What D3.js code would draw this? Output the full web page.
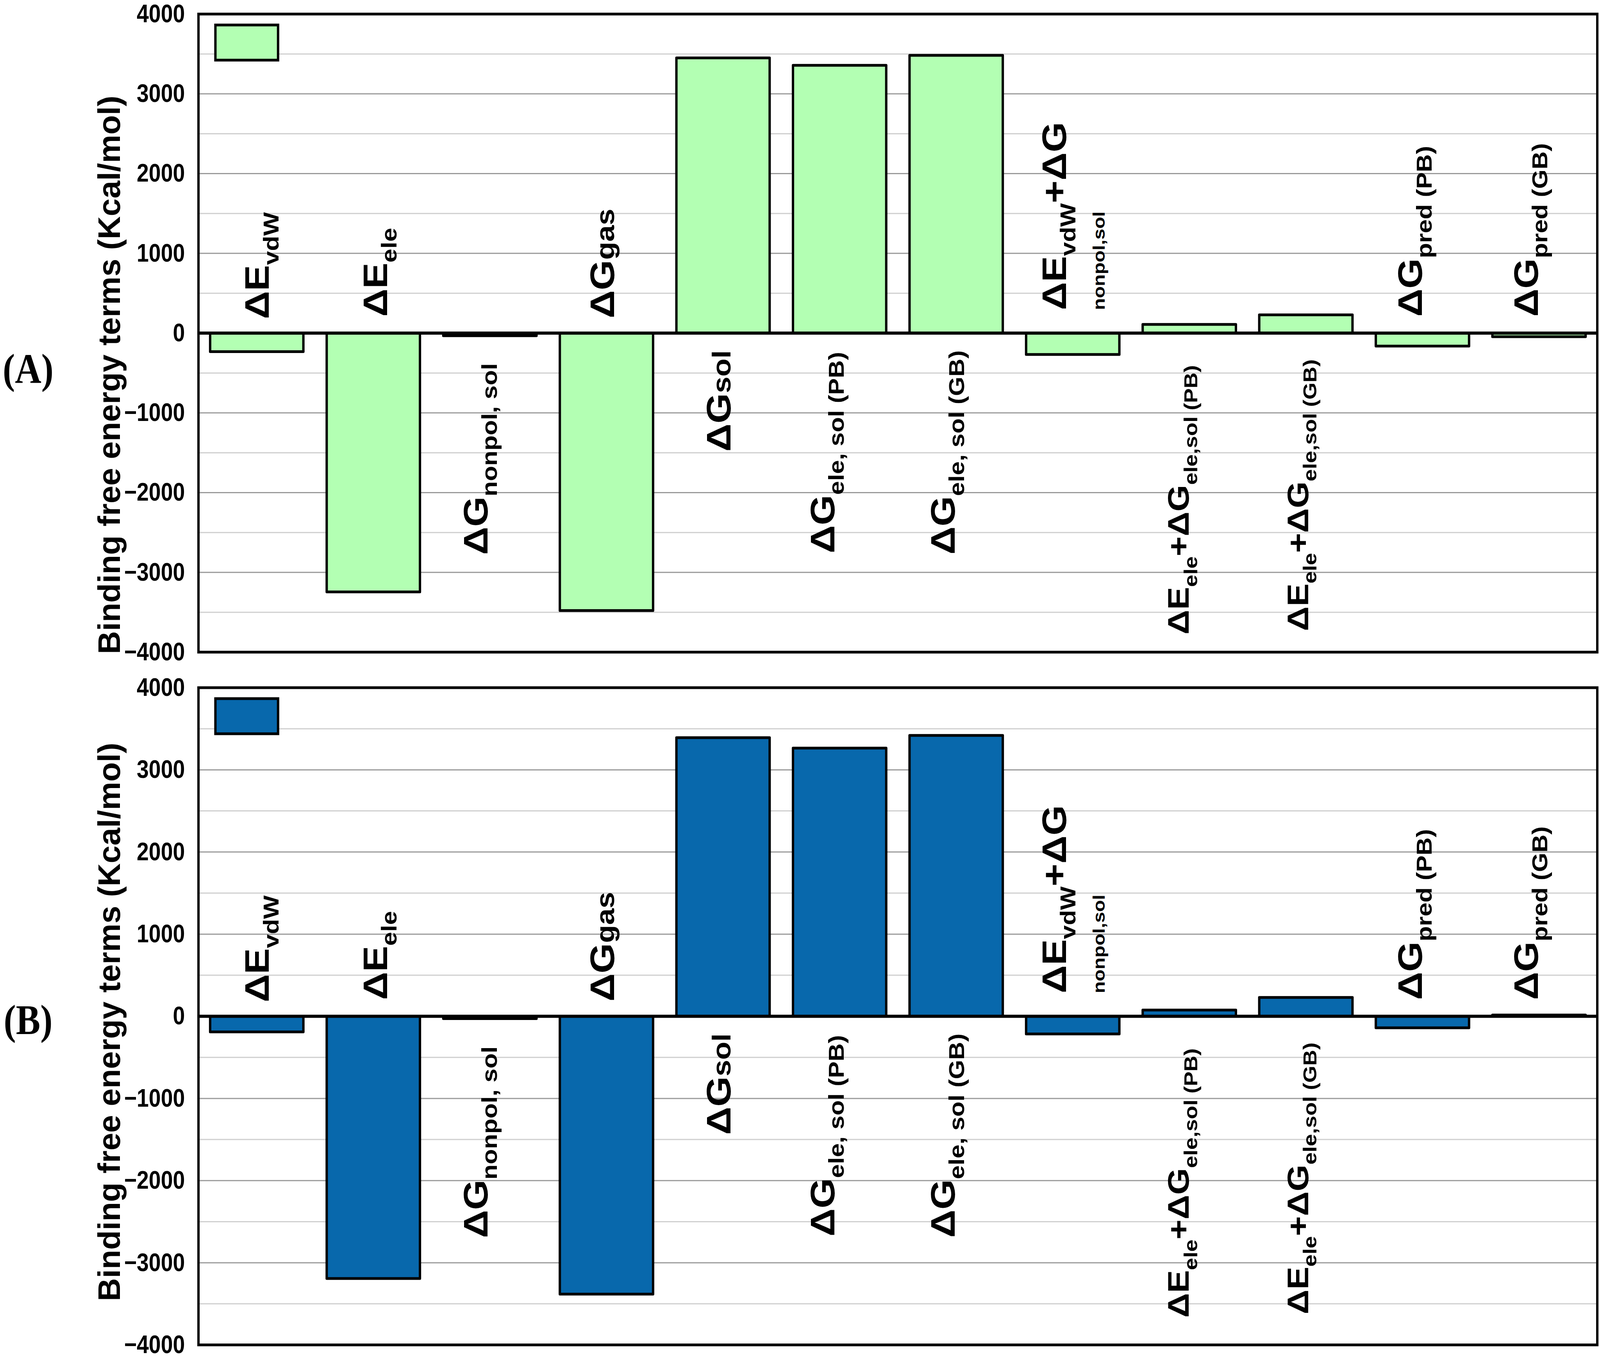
<!DOCTYPE html>
<html>
<head>
<meta charset="utf-8">
<script src="https://cdn.jsdelivr.net/npm/d3@7"></script>
<style>
  html, body { margin: 0; padding: 0; background: #fff; overflow: hidden; }
  svg { display: block; }
  text { font-family: "Liberation Sans", Arial, sans-serif; font-weight: bold; }
</style>
</head>
<body>
<div id="chart"></div>
<script>
// categories of the binding free energy decomposition
const categories = ["dEvdW", "dEele", "dGnonpol", "dGgas", "dGsol", "dGeleSolPB", "dGeleSolGB",
                    "dEvdWnonpol", "dEeleSolPB", "dEeleSolGB", "dGpredPB", "dGpredGB"];

// panel (A) values, kcal/mol
const valuesA = [-233, -3245, -33, -3478, 3450, 3357, 3482, -268, 109, 229, -163, -45];
// panel (B) values, kcal/mol
const valuesB = [-190, -3192, -28, -3382, 3391, 3264, 3419, -215, 76, 229, -140, 16];

const yTicks = [-4000, -3000, -2000, -1000, 0, 1000, 2000, 3000, 4000];
const gridLines = [-3500, -3000, -2500, -2000, -1500, -1000, -500, 500, 1000, 1500, 2000, 2500, 3000, 3500];

// label text pieces: m = main, s = subscript, n = smaller on baseline
const labelParts = [
    [["ΔE", "m"], ["vdW", "s"]],
    [["ΔE", "m"], ["ele", "s"]],
    [["ΔG", "m"], ["nonpol, sol", "s"]],
    [["ΔG", "m"], ["gas", "n"]],
    [["ΔG", "m"], ["sol", "n"]],
    [["ΔG", "m"], ["ele, sol (PB)", "s"]],
    [["ΔG", "m"], ["ele, sol (GB)", "s"]],
    [["ΔE", "m"], ["vdW", "s"], ["+ΔG", "m"]],
    [["ΔE", "m"], ["ele", "s"], ["+ΔG", "m"], ["ele,sol (PB)", "s"]],
    [["ΔE", "m"], ["ele", "s"], ["+ΔG", "m"], ["ele,sol (GB)", "s"]],
    [["ΔG", "m"], ["pred (PB)", "s"]],
    [["ΔG", "m"], ["pred (GB)", "s"]]
];
const secondLine = { 7: "nonpol,sol" };

const yTitle = "Binding free energy terms (Kcal/mol)";

// label layout (side of zero line, offset from band centre, gap from zero line)
const labelSide = ["up", "up", "down", "up", "down", "down", "down", "up", "down", "down", "up", "up"];
const labelDx = [0, 5, -43, -13, -14, -51, -40, -56, -33, -25, -37, -39];
const labelGap = [36, 42, 77, 38, 44, 48, 44, 59, 82, 67, 42, 42];
const labelSize = [100, 100, 100, 100, 100, 100, 100, 100, 88, 88, 100, 100];

const W = 4724, H = 3475;
const left = 586, right = 4716;

const panels = [
    { name: "(A)", values: valuesA, top: 36, bottom: 1670, fill: "#b3ffb3", titleY: 960, tagY: 945 },
    { name: "(B)", values: valuesB, top: 1761, bottom: 3444, fill: "#0868ac", titleY: 2617, tagY: 2612 }
];

// draw in reference pixel units and stretch to fill the whole viewport
const svg = d3.select("#chart").append("svg")
    .attr("width", window.innerWidth)
    .attr("height", window.innerHeight)
    .attr("viewBox", `0 0 ${W} ${H}`)
    .attr("preserveAspectRatio", "none");

const x = d3.scaleBand()
    .domain(categories)
    .range([left, right])
    .paddingInner(0.2)
    .paddingOuter(0.1);

panels.forEach(p => {
    const y = d3.scaleLinear().domain([-4000, 4000]).range([p.bottom, p.top]);
    const g = svg.append("g");

    // gridlines, darker every 1000
    g.selectAll("line.grid")
        .data(gridLines)
        .join("line")
        .attr("class", "grid")
        .attr("x1", left).attr("x2", right)
        .attr("y1", d => y(d)).attr("y2", d => y(d))
        .attr("stroke", d => d % 1000 === 0 ? "#9a9a9a" : "#cfcfcf")
        .attr("stroke-width", 3);

    // y axis labels
    const axis = g.append("g")
        .attr("transform", `translate(${left},0)`)
        .call(d3.axisLeft(y).tickValues(yTicks).tickFormat(d3.format("d")).tickSize(0).tickPadding(40));
    axis.select(".domain").remove();
    axis.selectAll("text")
        .attr("font-size", 64)
        .attr("fill", "#000")
        .style("font-family", "'Liberation Sans', Arial, sans-serif")
        .style("font-weight", "bold");

    // bars
    g.selectAll("rect.bar")
        .data(p.values)
        .join("rect")
        .attr("class", "bar")
        .attr("x", (d, i) => x(categories[i]))
        .attr("width", x.bandwidth())
        .attr("y", d => y(Math.max(0, d)))
        .attr("height", d => Math.abs(y(d) - y(0)))
        .attr("fill", p.fill)
        .attr("stroke", "#000")
        .attr("stroke-width", 7)
        .attr("stroke-linejoin", "round");

    // zero line
    g.append("line")
        .attr("x1", left).attr("x2", right)
        .attr("y1", y(0)).attr("y2", y(0))
        .attr("stroke", "#000")
        .attr("stroke-width", 8);

    // frame
    g.append("rect")
        .attr("x", left).attr("y", p.top)
        .attr("width", right - left).attr("height", p.bottom - p.top)
        .attr("fill", "none")
        .attr("stroke", "#000")
        .attr("stroke-width", 7);

    // legend swatch (no text in the original)
    g.append("rect")
        .attr("x", left + 50).attr("y", p.top + 28)
        .attr("width", 185).attr("height", 90)
        .attr("fill", p.fill)
        .attr("stroke", "#000")
        .attr("stroke-width", 7);

    // category labels, rotated, on the opposite side of the zero line
    categories.forEach((c, i) => {
        const fs = labelSize[i];
        const sub = fs * 0.64, small = fs * 0.76, shift = fs * 0.28;
        const bx = x(c) + x.bandwidth() / 2 + labelDx[i] + fs * 0.358;
        const up = labelSide[i] === "up";
        const ty = up ? y(0) - labelGap[i] : y(0) + labelGap[i];
        const t = g.append("text")
            .attr("transform", `translate(${bx},${ty}) rotate(-90)`)
            .attr("text-anchor", up ? "start" : "end")
            .attr("fill", "#000");
        let cur = 0;
        labelParts[i].forEach(([txt, kind]) => {
            const target = kind === "s" ? shift : 0;
            t.append("tspan")
                .attr("dy", target - cur)
                .attr("font-size", kind === "m" ? fs : (kind === "s" ? sub : small))
                .text(txt);
            cur = target;
        });
        if (secondLine[i]) {
            g.append("text")
                .attr("transform", `translate(${bx + 115},${ty}) rotate(-90)`)
                .attr("text-anchor", "start")
                .attr("font-size", 50)
                .text(secondLine[i]);
        }
    });

    // y axis title
    g.append("text")
        .attr("transform", `translate(354,${p.titleY}) rotate(-90)`)
        .attr("text-anchor", "middle")
        .attr("font-size", 92)
        .attr("textLength", 1430)
        .attr("lengthAdjust", "spacingAndGlyphs")
        .text(yTitle);

    // panel tag
    g.append("text")
        .attr("x", 83).attr("y", p.tagY)
        .attr("text-anchor", "middle")
        .attr("dominant-baseline", "central")
        .attr("font-size", 108)
        .style("font-family", "'Liberation Serif', 'Times New Roman', serif")
        .text(p.name);
});
</script>
</body>
</html>
